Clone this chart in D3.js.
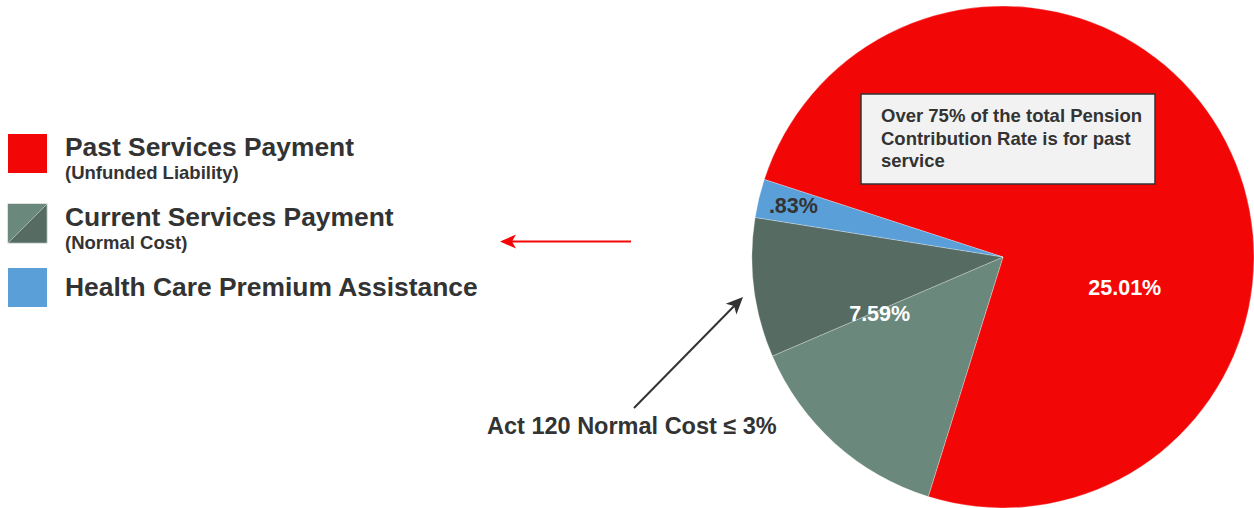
<!DOCTYPE html>
<html>
<head>
<meta charset="utf-8">
<script src="https://cdn.jsdelivr.net/npm/d3@7"></script>
<style>
  html, body { margin: 0; padding: 0; background: #ffffff; }
  svg { display: block; font-family: "Liberation Sans", Arial, Helvetica, sans-serif; }
</style>
</head>
<body>
<svg id="chart" width="1254" height="508"></svg>
<script>
// ---- data ----
const categories = ["Past Services Payment", "Current Services Payment (other)", "Act 120 Normal Cost", "Health Care Premium Assistance"];
const values = [25.01, 4.59, 3.00, 0.83];
const sliceColors = ["#f30606", "#6a887b", "#566b62", "#5a9fd8"];
const sliceLabels = ["25.01%", "7.59%", ".83%"];
const legendTitles = ["Past Services Payment", "Current Services Payment", "Health Care Premium Assistance"];
const legendSubtitles = ["(Unfunded Liability)", "(Normal Cost)", ""];
const noteLines = ["Over 75% of the total Pension", "Contribution Rate is for past", "service"];
const arrowNote = "Act 120 Normal Cost \u2264 3%";

const W = 1254, H = 508;
const svg = d3.select("#chart");
const textColor = "#333333";
const deg = Math.PI / 180;

// ---- pie ----
const cx = 1003, cy = 257, R = 251;
const pie = d3.pie().sort(null).value(d => d)
  .startAngle(-72 * deg).endAngle(288 * deg);
const arcs = pie(values);
const arc = d3.arc().innerRadius(0).outerRadius(R);

const g = svg.append("g").attr("transform", `translate(${cx},${cy})`);
g.selectAll("path.slice").data(arcs).join("path")
  .attr("class", "slice")
  .attr("d", arc)
  .attr("fill", (d, i) => sliceColors[i])
  .attr("stroke", "rgba(255,255,255,0.35)")
  .attr("stroke-width", 0.8);

// label positions (polar: angle in degrees, radius fraction)
const labelPolar = [[104.0, 0.50], [245.5, 0.54], [283.8, 0.86]];
const labelColors = ["#ffffff", "#ffffff", textColor];
sliceLabels.forEach((t, i) => {
  const a = labelPolar[i][0] * deg, r = labelPolar[i][1] * R;
  g.append("text")
    .attr("x", Math.sin(a) * r)
    .attr("y", -Math.cos(a) * r)
    .attr("dy", "0.35em")
    .attr("text-anchor", "middle")
    .attr("font-size", 21.5)
    .attr("font-weight", "bold")
    .attr("fill", labelColors[i])
    .text(t);
});

// ---- note box ----
const box = svg.append("g");
box.append("rect")
  .attr("x", 861).attr("y", 94).attr("width", 294).attr("height", 90)
  .attr("fill", "#f2f2f2").attr("stroke", "#333333").attr("stroke-width", 1.5);
noteLines.forEach((t, i) => {
  box.append("text")
    .attr("x", 881).attr("y", 122 + i * 22.5)
    .attr("font-size", 18.5).attr("font-weight", "bold")
    .attr("fill", textColor).text(t);
});

// ---- legend ----
const leg = svg.append("g");
const legY = [134, 204, 268];
const sq = 39;
leg.append("rect").attr("x", 8).attr("y", legY[0]).attr("width", sq).attr("height", sq).attr("fill", sliceColors[0]);
leg.append("rect").attr("x", 8).attr("y", legY[1]).attr("width", sq).attr("height", sq)
  .attr("fill", sliceColors[2]).attr("stroke", "#a9b8b1").attr("stroke-width", 0.8);
leg.append("path")
  .attr("d", `M8,${legY[1]}L${8 + sq},${legY[1]}L8,${legY[1] + sq}Z`)
  .attr("fill", sliceColors[1]);
leg.append("line")
  .attr("x1", 8).attr("y1", legY[1] + sq).attr("x2", 8 + sq).attr("y2", legY[1])
  .attr("stroke", "#b8c6bf").attr("stroke-width", 0.8);
leg.append("rect").attr("x", 8).attr("y", legY[2]).attr("width", sq).attr("height", sq).attr("fill", sliceColors[3]);

const titleBase = [156, 226, 296];
const subBase = [179, 249];
legendTitles.forEach((t, i) => {
  leg.append("text").attr("x", 65).attr("y", titleBase[i])
    .attr("font-size", 26.4).attr("font-weight", "bold").attr("fill", textColor).text(t);
  if (legendSubtitles[i]) {
    leg.append("text").attr("x", 65).attr("y", subBase[i])
      .attr("font-size", 18.5).attr("font-weight", "bold").attr("fill", textColor).text(legendSubtitles[i]);
  }
});

// ---- arrows ----
function arrow(x1, y1, x2, y2, color, headLen, headHalf) {
  const ang = Math.atan2(y2 - y1, x2 - x1);
  const bx = x2 - Math.cos(ang) * headLen, by = y2 - Math.sin(ang) * headLen;
  const nx = -Math.sin(ang), ny = Math.cos(ang);
  svg.append("line").attr("x1", x1).attr("y1", y1)
    .attr("x2", x2 - Math.cos(ang) * headLen * 0.6).attr("y2", y2 - Math.sin(ang) * headLen * 0.6)
    .attr("stroke", color).attr("stroke-width", 2);
  const notch = 0.25;
  const mx = x2 - Math.cos(ang) * headLen * (1 - notch), my = y2 - Math.sin(ang) * headLen * (1 - notch);
  svg.append("path")
    .attr("d", `M${x2},${y2}L${bx + nx * headHalf},${by + ny * headHalf}L${mx},${my}L${bx - nx * headHalf},${by - ny * headHalf}Z`)
    .attr("fill", color);
}
arrow(631, 241.5, 500, 241.5, sliceColors[0], 16, 7);
arrow(634, 408, 743, 297, "#333333", 17, 7.5);

svg.append("text").attr("x", 487).attr("y", 434)
  .attr("font-size", 23.5).attr("font-weight", "bold").attr("fill", textColor).text(arrowNote);
</script>
</body>
</html>
